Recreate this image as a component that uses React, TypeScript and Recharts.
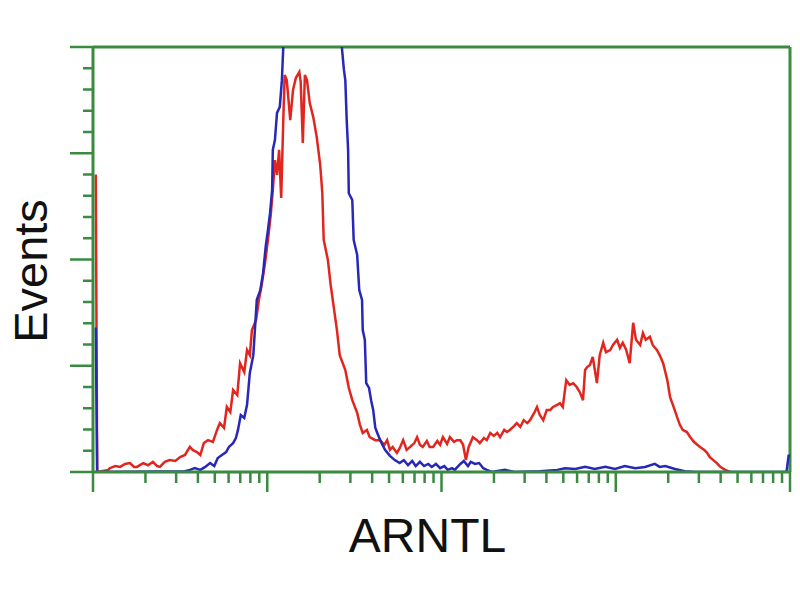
import React from 'react';
import { LineChart, Line, XAxis, YAxis, ReferenceLine, Label } from 'recharts';

// ---- Data (channel on a 4-decade log display, 250 channels per decade; events in % of full scale) ----
const redChannel = [4, 6, 22, 24, 32, 39, 46, 53, 59, 63, 72, 79, 86, 92, 96, 103, 110, 118, 125, 132, 139, 143, 149, 154, 159, 165, 172, 178, 182, 188, 192, 197, 201, 207, 211, 217, 221, 225, 228, 234, 238, 242, 247, 251, 255, 258, 261, 264, 267, 270, 273, 275, 278, 283, 287, 291, 296, 298, 301, 304, 307, 311, 316, 321, 326, 329, 331, 337, 341, 346, 350, 354, 362, 367, 372, 379, 383, 387, 393, 397, 405, 412, 418, 422, 426, 430, 436, 440, 445, 450, 455, 461, 465, 469, 473, 479, 483, 488, 494, 498, 502, 508, 512, 518, 522, 527, 531, 535, 539, 545, 551, 555, 561, 565, 570, 575, 580, 584, 590, 594, 598, 604, 608, 613, 618, 623, 627, 633, 637, 641, 646, 651, 656, 660, 666, 670, 674, 679, 684, 689, 694, 699, 703, 706, 709, 713, 717, 720, 723, 727, 732, 736, 742, 746, 752, 756, 760, 765, 770, 775, 779, 785, 789, 793, 799, 803, 809, 813, 818, 824, 828, 832, 838, 842, 846, 852, 857, 862, 867, 871, 877, 881, 885, 890, 895, 900, 907, 914];
const redEvents = [70, 0, 0.5, 0.9, 1.4, 1.2, 1.9, 2.1, 1.2, 1.2, 2.1, 1.6, 2.4, 1.4, 1.2, 2.4, 2.8, 2.6, 3.5, 4.0, 5.9, 5.2, 4.7, 4.0, 6.8, 7.5, 7.1, 9.9, 11.5, 10.4, 15.3, 14.1, 19.3, 18.1, 25.6, 23.5, 28.7, 27.5, 33.4, 35.8, 40.5, 44.0, 49.4, 54.6, 60.5, 66.4, 73.4, 69.9, 75.8, 64.5, 82.8, 93.4, 92.2, 82.8, 89.9, 92.7, 94.1, 91.8, 77.4, 93.4, 92.2, 86.8, 83.5, 78.8, 72.2, 65.6, 54.6, 49.9, 44.0, 38.1, 33.4, 27.5, 24.0, 19.8, 16.9, 13.9, 11.1, 9.2, 9.9, 8.2, 7.5, 7.5, 6.4, 7.5, 5.2, 5.9, 4.5, 5.6, 7.5, 5.2, 5.9, 6.8, 8.2, 6.4, 5.9, 7.3, 5.9, 5.9, 7.3, 6.4, 8.2, 6.6, 8.2, 7.1, 7.5, 7.5, 6.4, 2.8, 5.9, 8.2, 7.5, 6.8, 8.0, 7.5, 9.2, 8.5, 9.2, 8.2, 9.9, 9.4, 9.9, 10.8, 11.5, 10.6, 12.2, 11.5, 12.2, 13.9, 15.3, 13.4, 12.2, 14.6, 14.6, 15.3, 15.8, 16.2, 15.3, 21.6, 20.5, 20.9, 20.0, 18.6, 16.9, 24.0, 24.7, 25.2, 27.1, 24.0, 20.9, 27.5, 30.4, 28.2, 28.7, 29.9, 31.1, 29.2, 30.4, 28.7, 25.6, 35.1, 31.1, 29.9, 32.7, 31.1, 31.8, 29.9, 28.7, 27.5, 25.6, 21.6, 17.6, 15.8, 12.9, 11.1, 9.9, 9.4, 8.2, 7.1, 6.4, 5.9, 5.2, 4.5, 3.5, 2.8, 2.1, 1.2, 0.5, 0];

const blueChannel = [4, 6, 132, 139, 146, 154, 161, 168, 174, 179, 185, 191, 195, 201, 205, 208, 212, 217, 221, 225, 230, 232, 235, 240, 244, 248, 251, 254, 257, 258, 261, 264, 268, 271, 273, 276, 290, 315, 340, 352, 357, 360, 362, 364, 366, 367, 372, 374, 379, 382, 386, 387, 390, 392, 396, 399, 402, 405, 409, 413, 419, 426, 433, 440, 446, 452, 458, 463, 469, 475, 481, 486, 492, 498, 504, 509, 515, 519, 527, 532, 538, 542, 548, 554, 560, 565, 572, 591, 605, 641, 666, 677, 692, 706, 720, 735, 749, 763, 778, 792, 806, 813, 821, 835, 849, 864, 995, 998, 1000];
const blueEvents = [34, 0, 0.2, 0.5, 0.9, 0.5, 1.2, 2.1, 1.4, 3.3, 4.0, 4.7, 5.9, 6.8, 8.0, 9.9, 13.4, 12.7, 15.8, 23.3, 27.5, 32.7, 40.5, 42.8, 46.8, 53.4, 56.9, 60.9, 66.4, 75.8, 78.1, 84.5, 85.9, 92.2, 100, 108, 118, 122, 116, 106, 100, 94.6, 92.2, 82.8, 75.8, 65.6, 64.0, 54.6, 51.1, 42.8, 40.5, 33.4, 31.1, 20.9, 19.8, 16.9, 14.6, 10.4, 8.7, 7.1, 5.2, 3.8, 2.8, 2.1, 2.8, 1.6, 2.6, 1.4, 2.4, 1.4, 1.9, 1.2, 1.9, 0.9, 1.4, 0.5, 0.9, 0.5, 1.9, 2.6, 1.4, 2.4, 1.9, 2.1, 0.9, 0.5, 0, 0.5, 0, 0.2, 0.5, 0.9, 0.7, 1.2, 0.7, 1.2, 0.7, 1.4, 0.9, 1.2, 1.9, 1.2, 1.4, 0.7, 0.2, 0, 0, 3.8, 3.8];

const yTicks = [0, 5, 10, 15, 20, 25, 30, 35, 40, 45, 50, 55, 60, 65, 70, 75, 80, 85, 90, 95, 100];
const yMajorTicks = [0, 25, 50, 75, 100];
const decades = [0, 1, 2, 3, 4];
const minorMultipliers = [2, 3, 4, 5, 6, 7, 8, 9];
const xAxisTitle = 'ARNTL';
const yAxisTitle = 'Events';

const CHANNELS_PER_DECADE = 250;
const GREEN = '#3a8a40';
const RED = '#e0261f';
const BLUE = '#2727b8';
const FONT = '"Liberation Sans", Arial, sans-serif';

const xMajorTicks = decades.map((d) => d * CHANNELS_PER_DECADE);
const xMinorTicks = decades
  .slice(0, -1)
  .flatMap((d) => minorMultipliers.map((m) => d * CHANNELS_PER_DECADE + CHANNELS_PER_DECADE * Math.log10(m)));
const xTicks = [...xMajorTicks, ...xMinorTicks].sort((a, b) => a - b);

const redData = redChannel.map((c, i) => ({ channel: c, events: redEvents[i] }));
const blueData = blueChannel.map((c, i) => ({ channel: c, events: blueEvents[i] }));

const XTick = (props: any) => {
  const { x, y, payload } = props;
  const major = xMajorTicks.some((t) => Math.abs(t - payload.value) < 1e-6);
  return <line x1={x} y1={y} x2={x} y2={y + (major ? 20 : 11)} stroke={GREEN} strokeWidth={2.5} />;
};

const YTick = (props: any) => {
  const { x, y, payload } = props;
  const major = yMajorTicks.includes(payload.value);
  return <line x1={x} y1={y} x2={x - (major ? 23 : 10)} y2={y} stroke={GREEN} strokeWidth={2.5} />;
};

const XTitle = (props: any) => {
  const vb = props.viewBox || { x: 93, y: 472, width: 697, height: 128 };
  return (
    <text x={vb.x + vb.width / 2 - 14} y={vb.y + 80} textAnchor="middle" fontFamily={FONT} fontSize={48} fill="#111">
      {xAxisTitle}
    </text>
  );
};

const YTitle = (props: any) => {
  const vb = props.viewBox || { x: 0, y: 47, width: 93, height: 425 };
  const cx = vb.x + 47;
  const cy = vb.y + vb.height / 2 + 11.5;
  return (
    <text x={cx} y={cy} transform={`rotate(-90 ${cx} ${cy})`} textAnchor="middle" fontFamily={FONT} fontSize={47} fill="#111">
      {yAxisTitle}
    </text>
  );
};

export default function App() {
  return (
    <div style={{ position: 'absolute', left: 0, top: 0, width: 800, height: 600, background: '#fff' }}>
      <LineChart width={800} height={600} margin={{ top: 47, right: 10, bottom: 0, left: 0 }}>
        <XAxis
          dataKey="channel"
          type="number"
          domain={[0, 1000]}
          ticks={xTicks}
          interval={0}
          height={128}
          tickSize={0}
          tickMargin={0}
          tickLine={false}
          tick={<XTick />}
          axisLine={{ stroke: GREEN, strokeWidth: 3 }}
          allowDataOverflow
        >
          <Label content={<XTitle />} />
        </XAxis>
        <YAxis
          type="number"
          domain={[0, 100]}
          ticks={yTicks}
          interval={0}
          width={93}
          tickSize={0}
          tickMargin={0}
          tickLine={false}
          tick={<YTick />}
          axisLine={{ stroke: GREEN, strokeWidth: 3 }}
          allowDataOverflow
        >
          <Label content={<YTitle />} />
        </YAxis>
        <ReferenceLine y={100} stroke={GREEN} strokeWidth={3} />
        <ReferenceLine x={1000} stroke={GREEN} strokeWidth={3} />
        <Line
          data={redData}
          dataKey="events"
          type="linear"
          stroke={RED}
          strokeWidth={2.5}
          dot={false}
          activeDot={false}
          isAnimationActive={false}
        />
        <Line
          data={blueData}
          dataKey="events"
          type="linear"
          stroke={BLUE}
          strokeWidth={2.5}
          dot={false}
          activeDot={false}
          isAnimationActive={false}
        />
      </LineChart>
    </div>
  );
}
